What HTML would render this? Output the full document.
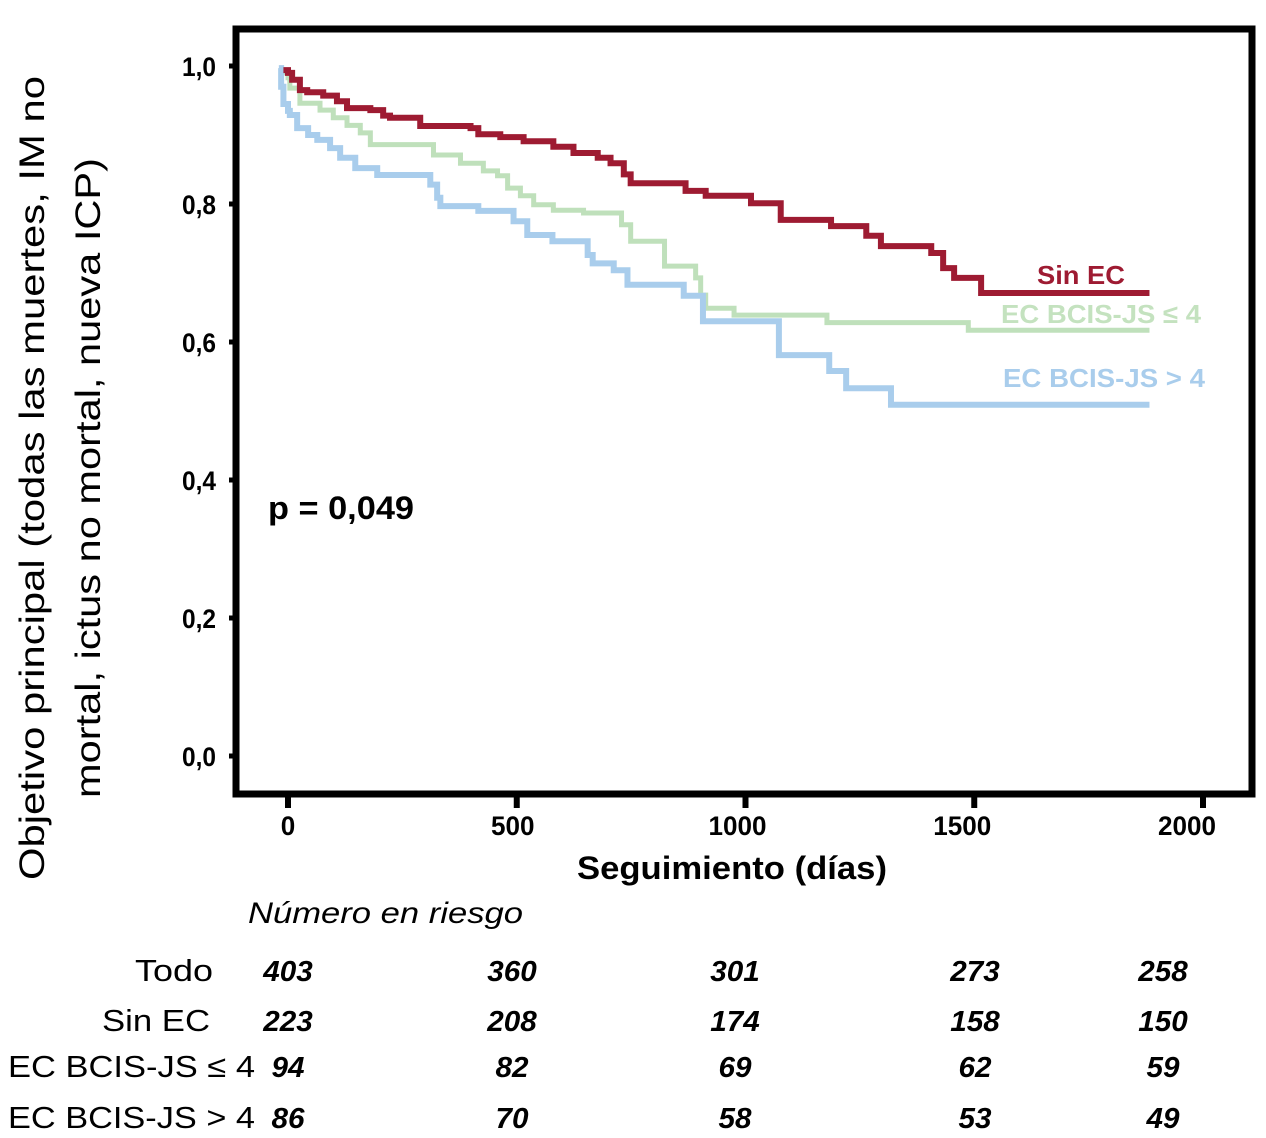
<!DOCTYPE html>
<html><head><meta charset="utf-8">
<style>
html,body{margin:0;padding:0;background:#fff;}
svg{display:block;font-family:"Liberation Sans",Arial,sans-serif;}
</style></head>
<body>
<svg id="chart" width="1266" height="1138" viewBox="0 0 1266 1138" xmlns="http://www.w3.org/2000/svg">
  <rect x="236" y="29" width="1016" height="765" fill="none" stroke="#000" stroke-width="7"/>
  <g id="yticks"></g>
  <g id="xticks"></g>
  <g id="curves"></g>
  <text transform="translate(44,478) rotate(-90)" text-anchor="middle" font-size="35" textLength="804" lengthAdjust="spacingAndGlyphs">Objetivo principal (todas las muertes, IM no</text>
  <text transform="translate(100,478) rotate(-90)" text-anchor="middle" font-size="35" textLength="640" lengthAdjust="spacingAndGlyphs">mortal, ictus no mortal, nueva ICP)</text>
  <text x="732" y="879" text-anchor="middle" font-size="32" font-weight="bold" textLength="310" lengthAdjust="spacingAndGlyphs">Seguimiento (días)</text>
  <text x="268" y="519" font-size="32" font-weight="bold" textLength="146" lengthAdjust="spacingAndGlyphs">p = 0,049</text>
  <text x="1125" y="284" text-anchor="end" font-size="26" font-weight="bold" fill="#9e1b32" textLength="88" lengthAdjust="spacingAndGlyphs">Sin EC</text>
  <text x="1001" y="323" font-size="26" font-weight="bold" fill="#c4e2bf" textLength="200" lengthAdjust="spacingAndGlyphs">EC BCIS-JS ≤ 4</text>
  <text x="1003" y="387" font-size="26" font-weight="bold" fill="#a9cdec" textLength="202" lengthAdjust="spacingAndGlyphs">EC BCIS-JS &gt; 4</text>
  <text x="248" y="923" font-size="30" font-style="italic" textLength="275" lengthAdjust="spacingAndGlyphs">Número en riesgo</text>
  <g id="risk"></g>
</svg>
<script>
const NS = "http://www.w3.org/2000/svg";
const yTicks = [0, 0.2, 0.4, 0.6, 0.8, 1.0];
const yTickLabels = ["0,0", "0,2", "0,4", "0,6", "0,8", "1,0"];
const xTicks = [0, 500, 1000, 1500, 2000];
const xTickLabels = ["0", "500", "1000", "1500", "2000"];

const sinEcDays = [-10,0,9,26,42,77,107,129,180,208,223,289,399,416,464,515,580,624,677,705,734,749,869,913,1012,1077,1187,1264,1296,1406,1432,1456,1515,1883];
const sinEcSurv = [0.994,0.990,0.980,0.965,0.962,0.957,0.949,0.939,0.936,0.928,0.925,0.913,0.910,0.901,0.897,0.891,0.883,0.874,0.867,0.859,0.843,0.830,0.819,0.812,0.801,0.777,0.768,0.754,0.739,0.729,0.707,0.693,0.671,0.671];
const le4Days = [-10,0,4,26,70,99,129,158,180,318,377,427,458,480,508,537,580,646,729,749,823,891,902,913,975,1178,1487,1883];
const le4Surv = [0.990,0.983,0.968,0.946,0.936,0.925,0.914,0.903,0.886,0.871,0.859,0.848,0.841,0.823,0.812,0.799,0.791,0.787,0.770,0.746,0.710,0.693,0.668,0.649,0.639,0.628,0.617,0.617];
const gt4Days = [-20,-15,-10,0,4,20,44,64,92,114,147,195,311,326,333,416,493,523,578,655,666,712,742,865,907,1073,1183,1220,1318,1883];
const gt4Surv = [0.997,0.970,0.945,0.935,0.929,0.910,0.900,0.893,0.881,0.867,0.852,0.842,0.828,0.809,0.797,0.790,0.775,0.755,0.746,0.726,0.714,0.704,0.683,0.667,0.630,0.581,0.558,0.533,0.509,0.509];

const riskLabels = ["Todo", "Sin EC", "EC BCIS-JS ≤ 4", "EC BCIS-JS > 4"];
const riskTodo = [403, 360, 301, 273, 258];
const riskSinEc = [223, 208, 174, 158, 150];
const riskLe4 = [94, 82, 69, 62, 59];
const riskGt4 = [86, 70, 58, 53, 49];

function xScale(d){ return 288 + d * 0.4575; }
function yScale(s){ return 756 - s * 690; }

function mk(tag, attrs, parent){
  const el = document.createElementNS(NS, tag);
  for (const k in attrs) el.setAttribute(k, attrs[k]);
  parent.appendChild(el);
  return el;
}

const yg = document.getElementById("yticks");
yTicks.forEach((v,i)=>{
  const t = mk("line",{x1:229,x2:236,y1:yScale(v),y2:yScale(v),stroke:"#000","stroke-width":5},yg);
  
  
  const l = mk("text",{x:216,y:yScale(v)+10,"text-anchor":"end","font-size":27,"font-weight":"bold",textLength:34,lengthAdjust:"spacingAndGlyphs"},yg);
  
  
  l.textContent = yTickLabels[i];
});
const xg = document.getElementById("xticks");
xTicks.forEach((v,i)=>{
  const t = mk("line",{x1:xScale(v),x2:xScale(v),y1:794,y2:808,stroke:"#000","stroke-width":6},xg);
  
  
  const l = mk("text",{x:xScale(v)-(i*4),y:835,"text-anchor":"middle","font-size":27,"font-weight":"bold",textLength:xTickLabels[i].length*14.5,lengthAdjust:"spacingAndGlyphs"},xg);
  
  
  l.textContent = xTickLabels[i];
});

function stepPath(days, surv){
  let d = "M" + xScale(days[0]) + "," + yScale(surv[0]);
  for (let i=1;i<days.length;i++){
    d += " H" + xScale(days[i]) + " V" + yScale(surv[i]);
  }
  return d;
}
const cg = document.getElementById("curves");
const c1 = mk("path",{d:stepPath(le4Days,le4Surv),fill:"none",stroke:"#bfe0bb","stroke-width":5},cg);


const c2 = mk("path",{d:stepPath(gt4Days,gt4Surv),fill:"none",stroke:"#a9cdec","stroke-width":6},cg);


const c3 = mk("path",{d:stepPath(sinEcDays,sinEcSurv),fill:"none",stroke:"#9e1b32","stroke-width":6},cg);



const rg = document.getElementById("risk");
const rows = [riskTodo, riskSinEc, riskLe4, riskGt4];
const rowY = [981, 1031, 1077, 1128];
const labelX = [213, 210, 255, 255];
const labelW = [78, 108, 247, 247];
const colX = [288, 512, 735, 975, 1163];
riskLabels.forEach((lab,r)=>{
  const t = mk("text",{x:labelX[r],y:rowY[r],"text-anchor":"end","font-size":31,textLength:labelW[r],lengthAdjust:"spacingAndGlyphs"},rg);
  
  
  t.textContent = lab;
  rows[r].forEach((n,c)=>{
    const s = String(n);
    const num = mk("text",{x:colX[c],y:rowY[r],"text-anchor":"middle","font-size":29,"font-weight":"bold","font-style":"italic",textLength:s.length*16.5,lengthAdjust:"spacingAndGlyphs"},rg);
    
    
    num.textContent = s;
  });
});
</script>
</body></html>
